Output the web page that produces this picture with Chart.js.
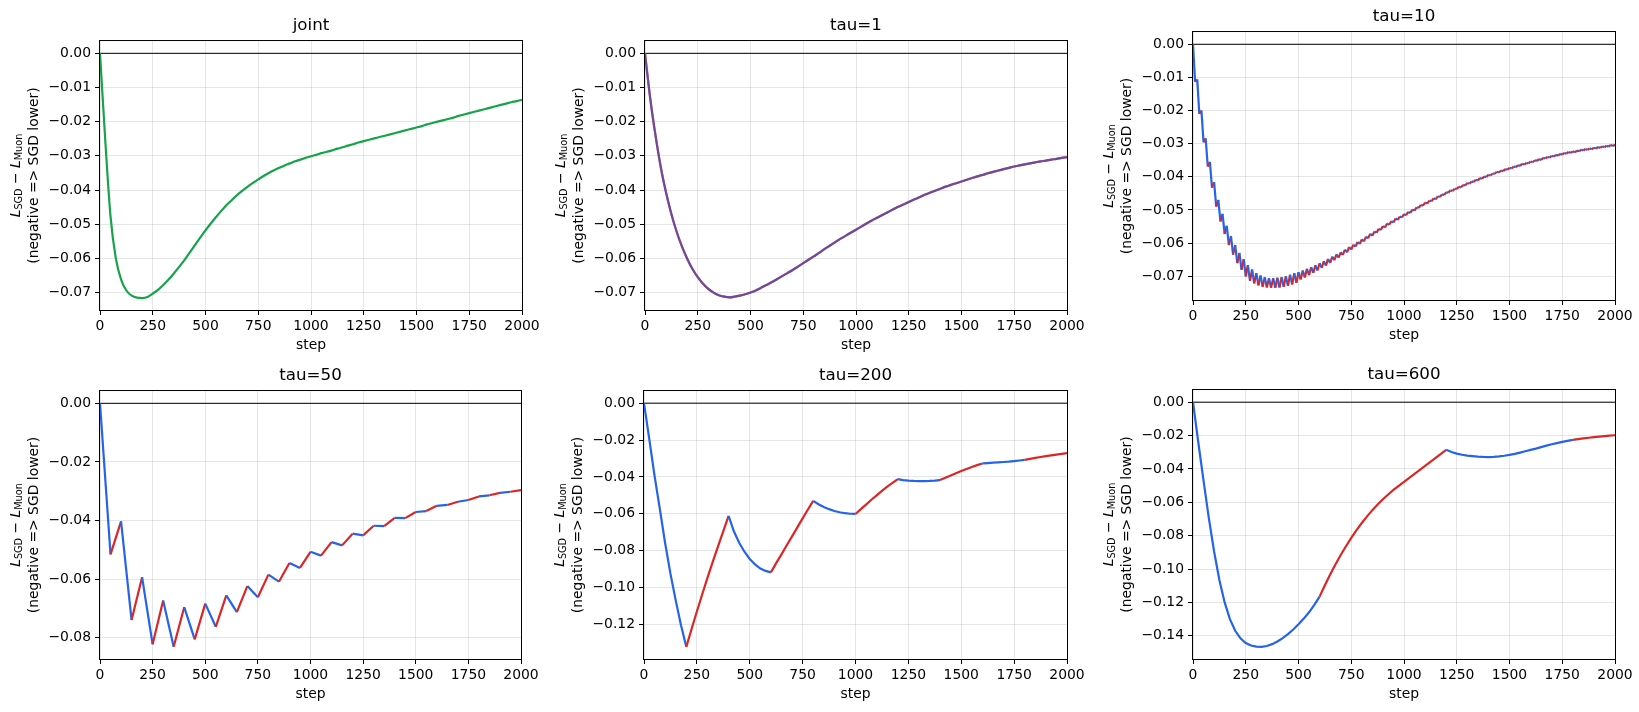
<!DOCTYPE html>
<html>
<head>
<meta charset="utf-8">
<script src="https://cdn.jsdelivr.net/npm/chart.js@4.4.1/dist/chart.umd.min.js"></script>
<style>
  html, body { margin: 0; padding: 0; background: #fff; }
  body { width: 1639px; height: 712px; position: relative; overflow: hidden; }
  canvas { position: absolute; }
</style>
</head>
<body>
<script>
// ---- data ----

const xTicks = [0, 250, 500, 750, 1000, 1250, 1500, 1750, 2000];
const yTicks01 = [0, -0.01, -0.02, -0.03, -0.04, -0.05, -0.06, -0.07];
const yTicks50 = [0, -0.02, -0.04, -0.06, -0.08];
const yTicks200 = [0, -0.02, -0.04, -0.06, -0.08, -0.10, -0.12];
const yTicks600 = [0, -0.02, -0.04, -0.06, -0.08, -0.10, -0.12, -0.14];

const steps25 = [
  0, 25, 50, 75, 100, 125, 150, 175,
  200, 225, 250, 275, 300, 325, 350, 375,
  400, 425, 450, 475, 500, 525, 550, 575,
  600, 625, 650, 675, 700, 725, 750, 775,
  800, 825, 850, 875, 900, 925, 950, 975,
  1000, 1025, 1050, 1075, 1100, 1125, 1150, 1175,
  1200, 1225, 1250, 1275, 1300, 1325, 1350, 1375,
  1400, 1425, 1450, 1475, 1500, 1525, 1550, 1575,
  1600, 1625, 1650, 1675, 1700, 1725, 1750, 1775,
  1800, 1825, 1850, 1875, 1900, 1925, 1950, 1975,
  2000
];

const jointLoss = [
  0, -0.0255, -0.0478, -0.0600, -0.0662, -0.0694, -0.0709, -0.0715,
  -0.0716, -0.0713, -0.0703, -0.0692, -0.0678, -0.0662, -0.0644, -0.0625,
  -0.0605, -0.0583, -0.0561, -0.0539, -0.0518, -0.0498, -0.0479, -0.0461,
  -0.0444, -0.0429, -0.0415, -0.0402, -0.0390, -0.0379, -0.0369, -0.0359,
  -0.0350, -0.0342, -0.0335, -0.0328, -0.0322, -0.0316, -0.0311, -0.0306,
  -0.0301, -0.0297, -0.0292, -0.0288, -0.0284, -0.0279, -0.0275, -0.0270,
  -0.0266, -0.0261, -0.0257, -0.0253, -0.0249, -0.0245, -0.0241, -0.0237,
  -0.0233, -0.0229, -0.0225, -0.0221, -0.0217, -0.0213, -0.0208, -0.0204,
  -0.0200, -0.0196, -0.0192, -0.0188, -0.0183, -0.0179, -0.0175, -0.0171,
  -0.0167, -0.0163, -0.0159, -0.0155, -0.0151, -0.0147, -0.0143, -0.0140,
  -0.0136
];

const tau1Loss = [
  0, -0.0133, -0.0241, -0.0334, -0.0408, -0.0470, -0.0522, -0.0565,
  -0.0601, -0.0631, -0.0655, -0.0674, -0.0689, -0.0700, -0.0708, -0.0712,
  -0.0714, -0.0712, -0.0709, -0.0705, -0.0700, -0.0694, -0.0686, -0.0678,
  -0.0670, -0.0661, -0.0652, -0.0643, -0.0634, -0.0624, -0.0614, -0.0604,
  -0.0594, -0.0584, -0.0573, -0.0563, -0.0553, -0.0543, -0.0534, -0.0525,
  -0.0516, -0.0507, -0.0498, -0.0489, -0.0481, -0.0473, -0.0465, -0.0457,
  -0.0449, -0.0442, -0.0435, -0.0428, -0.0421, -0.0414, -0.0408, -0.0402,
  -0.0396, -0.0390, -0.0385, -0.0380, -0.0375, -0.0370, -0.0365, -0.0360,
  -0.0356, -0.0351, -0.0347, -0.0343, -0.0339, -0.0335, -0.0331, -0.0328,
  -0.0325, -0.0322, -0.0319, -0.0316, -0.0314, -0.0311, -0.0309, -0.0306,
  -0.0304
];

const tau200Loss = [
  0, -0.0195, -0.0395, -0.0575, -0.0760, -0.0925, -0.1070, -0.1205,
  -0.1322, -0.1225, -0.1130, -0.1038, -0.0948, -0.0861, -0.0777, -0.0694,
  -0.0612, -0.0695, -0.0757, -0.0806, -0.0845, -0.0875, -0.0897, -0.0910,
  -0.0918, -0.0868, -0.0820, -0.0771, -0.0723, -0.0674, -0.0625, -0.0577,
  -0.0530, -0.0548, -0.0563, -0.0575, -0.0585, -0.0592, -0.0597, -0.0600,
  -0.0601, -0.0575, -0.0550, -0.0524, -0.0500, -0.0476, -0.0453, -0.0432,
  -0.0412, -0.0417, -0.0420, -0.0422, -0.0423, -0.0423, -0.0422, -0.0420,
  -0.0417, -0.0404, -0.0392, -0.0380, -0.0368, -0.0357, -0.0346, -0.0336,
  -0.0327, -0.0325, -0.0323, -0.0321, -0.0319, -0.0317, -0.0314, -0.0311,
  -0.0308, -0.0302, -0.0297, -0.0292, -0.0287, -0.0283, -0.0279, -0.0275,
  -0.0271
];

const tau600Loss = [
  0, -0.0240, -0.0470, -0.0695, -0.0895, -0.1065, -0.1200, -0.1300,
  -0.1370, -0.1415, -0.1443, -0.1458, -0.1465, -0.1466, -0.1461, -0.1450,
  -0.1434, -0.1414, -0.1390, -0.1362, -0.1331, -0.1297, -0.1259, -0.1215,
  -0.1165, -0.1097, -0.1033, -0.0973, -0.0916, -0.0863, -0.0813, -0.0767,
  -0.0724, -0.0684, -0.0647, -0.0613, -0.0582, -0.0553, -0.0526, -0.0501,
  -0.0477, -0.0453, -0.0429, -0.0405, -0.0381, -0.0357, -0.0333, -0.0309,
  -0.0285, -0.0298, -0.0308, -0.0315, -0.0320, -0.0323, -0.0326, -0.0328,
  -0.0329, -0.0328, -0.0325, -0.0321, -0.0316, -0.0310, -0.0302, -0.0294,
  -0.0286, -0.0278, -0.0269, -0.0260, -0.0252, -0.0245, -0.0238, -0.0232,
  -0.0226, -0.0221, -0.0217, -0.0213, -0.0209, -0.0206, -0.0203, -0.0200,
  -0.0198
];

const steps50 = [
  0, 50, 100, 150, 200, 250, 300, 350, 400, 450,
  500, 550, 600, 650, 700, 750, 800, 850, 900, 950,
  1000, 1050, 1100, 1150, 1200, 1250, 1300, 1350, 1400, 1450,
  1500, 1550, 1600, 1650, 1700, 1750, 1800, 1850, 1900, 1950,
  2000
];

const tau50Loss = [
  0, -0.0516, -0.0403, -0.0740, -0.0594, -0.0823, -0.0673, -0.0831, -0.0696, -0.0806,
  -0.0684, -0.0763, -0.0656, -0.0713, -0.0624, -0.0662, -0.0585, -0.0609, -0.0545, -0.0562,
  -0.0507, -0.0520, -0.0474, -0.0485, -0.0445, -0.0451, -0.0418, -0.0419, -0.0391, -0.0392,
  -0.0371, -0.0368, -0.0350, -0.0347, -0.0336, -0.0330, -0.0318, -0.0314, -0.0306, -0.0302,
  -0.0296
];

const steps10 = [
  0, 10, 20, 30, 40, 50, 60, 70, 80, 90,
  100, 110, 120, 130, 140, 150, 160, 170, 180, 190,
  200, 210, 220, 230, 240, 250, 260, 270, 280, 290,
  300, 310, 320, 330, 340, 350, 360, 370, 380, 390,
  400, 410, 420, 430, 440, 450, 460, 470, 480, 490,
  500, 510, 520, 530, 540, 550, 560, 570, 580, 590,
  600, 610, 620, 630, 640, 650, 660, 670, 680, 690,
  700, 710, 720, 730, 740, 750, 760, 770, 780, 790,
  800, 810, 820, 830, 840, 850, 860, 870, 880, 890,
  900, 910, 920, 930, 940, 950, 960, 970, 980, 990,
  1000, 1010, 1020, 1030, 1040, 1050, 1060, 1070, 1080, 1090,
  1100, 1110, 1120, 1130, 1140, 1150, 1160, 1170, 1180, 1190,
  1200, 1210, 1220, 1230, 1240, 1250, 1260, 1270, 1280, 1290,
  1300, 1310, 1320, 1330, 1340, 1350, 1360, 1370, 1380, 1390,
  1400, 1410, 1420, 1430, 1440, 1450, 1460, 1470, 1480, 1490,
  1500, 1510, 1520, 1530, 1540, 1550, 1560, 1570, 1580, 1590,
  1600, 1610, 1620, 1630, 1640, 1650, 1660, 1670, 1680, 1690,
  1700, 1710, 1720, 1730, 1740, 1750, 1760, 1770, 1780, 1790,
  1800, 1810, 1820, 1830, 1840, 1850, 1860, 1870, 1880, 1890,
  1900, 1910, 1920, 1930, 1940, 1950, 1960, 1970, 1980, 1990,
  2000
];

const tau10Loss = [
  0, -0.0113, -0.0106, -0.0210, -0.0200, -0.0296, -0.0284, -0.0369, -0.0355, -0.0433,
  -0.0416, -0.0490, -0.0470, -0.0535, -0.0512, -0.0573, -0.0548, -0.0606, -0.0579, -0.0635,
  -0.0606, -0.0661, -0.0630, -0.0681, -0.0649, -0.0701, -0.0667, -0.0714, -0.0680, -0.0722,
  -0.0691, -0.0728, -0.0698, -0.0732, -0.0703, -0.0734, -0.0706, -0.0735, -0.0706, -0.0735,
  -0.0705, -0.0734, -0.0703, -0.0732, -0.0700, -0.0729, -0.0696, -0.0725, -0.0691, -0.0720,
  -0.0688, -0.0710, -0.0683, -0.0704, -0.0678, -0.0697, -0.0673, -0.0690, -0.0667, -0.0683,
  -0.0661, -0.0675, -0.0655, -0.0668, -0.0648, -0.0660, -0.0641, -0.0652, -0.0634, -0.0644,
  -0.0628, -0.0636, -0.0620, -0.0628, -0.0612, -0.0620, -0.0605, -0.0611, -0.0597, -0.0603,
  -0.0589, -0.0595, -0.0581, -0.0586, -0.0572, -0.0578, -0.0565, -0.0569, -0.0557, -0.0561,
  -0.0549, -0.0553, -0.0541, -0.0545, -0.0534, -0.0538, -0.0526, -0.0530, -0.0520, -0.0523,
  -0.0513, -0.0516, -0.0506, -0.0509, -0.0499, -0.0502, -0.0492, -0.0494, -0.0485, -0.0487,
  -0.0478, -0.0481, -0.0472, -0.0474, -0.0465, -0.0468, -0.0459, -0.0461, -0.0453, -0.0455,
  -0.0447, -0.0448, -0.0441, -0.0443, -0.0436, -0.0437, -0.0430, -0.0432, -0.0425, -0.0426,
  -0.0419, -0.0421, -0.0414, -0.0416, -0.0409, -0.0411, -0.0404, -0.0406, -0.0399, -0.0401,
  -0.0394, -0.0396, -0.0390, -0.0391, -0.0385, -0.0387, -0.0381, -0.0383, -0.0377, -0.0379,
  -0.0373, -0.0375, -0.0369, -0.0371, -0.0365, -0.0367, -0.0361, -0.0363, -0.0358, -0.0360,
  -0.0354, -0.0356, -0.0350, -0.0352, -0.0347, -0.0349, -0.0343, -0.0345, -0.0340, -0.0342,
  -0.0337, -0.0339, -0.0334, -0.0336, -0.0331, -0.0333, -0.0328, -0.0330, -0.0325, -0.0328,
  -0.0323, -0.0326, -0.0321, -0.0323, -0.0318, -0.0321, -0.0316, -0.0319, -0.0314, -0.0317,
  -0.0312, -0.0315, -0.0310, -0.0313, -0.0308, -0.0311, -0.0306, -0.0309, -0.0304, -0.0307,
  -0.0303
];

// ---- styling ----
const FONT = '"DejaVu Sans", sans-serif';
const BLUE = '#2563eb';
const RED = '#dc2626';
const GREEN = '#16a34a';
const GRID = 'rgba(176,176,176,0.32)';

const toPoints = (xs, ys) => xs.map((x, i) => ({ x, y: ys[i] }));
const fmtY = v => (v < 0 ? '\u2212' : '') + Math.abs(v).toFixed(2);

// blue on even phases, red on odd ones
const phaseColor = tau => c => (Math.floor(c.p0.parsed.x / tau) % 2 === 0 ? BLUE : RED);

const zeroLine = () => ({
  data: [{ x: 0, y: 0 }, { x: 2000, y: 0 }],
  borderColor: '#000', borderWidth: 1, tension: 0
});

// frame + two-line y label with subscripts (matplotlib mathtext look-alike)
const framePlugin = {
  id: 'frameBox',
  afterDatasetsDraw(chart) {
    const { ctx, chartArea: a } = chart;
    ctx.save();
    ctx.strokeStyle = '#000';
    ctx.lineWidth = 1;
    ctx.strokeRect(a.left - 0.5, a.top - 0.5, a.right - a.left + 1, a.bottom - a.top + 1);
    ctx.restore();
  },
  afterDraw(chart) {
    const { ctx, chartArea: a } = chart;
    const cy = (a.top + a.bottom) / 2;
    const big = '13.9px ' + FONT, small = '9.7px ' + FONT, ital = 'italic 13.9px ' + FONT;
    const parts = [[ital, 'L', 0], [small, 'SGD', 3.5], [big, ' \u2212 ', 0], [ital, 'L', 0], [small, 'Muon', 3.5]];
    ctx.save();
    ctx.fillStyle = '#000';
    ctx.textBaseline = 'middle';
    ctx.textAlign = 'left';
    let total = 0;
    for (const p of parts) { ctx.font = p[0]; total += ctx.measureText(p[1]).width; }
    ctx.translate(a.left - 84, cy);
    ctx.rotate(-Math.PI / 2);
    let x = -total / 2;
    for (const p of parts) {
      ctx.font = p[0];
      ctx.fillText(p[1], x, p[2]);
      x += ctx.measureText(p[1]).width;
    }
    ctx.restore();

    ctx.save();
    ctx.fillStyle = '#000';
    ctx.textBaseline = 'middle';
    ctx.textAlign = 'center';
    ctx.font = big;
    ctx.translate(a.left - 66, cy);
    ctx.rotate(-Math.PI / 2);
    ctx.fillText('(negative => SGD lower)', 0, 0);
    ctx.restore();
  }
};
Chart.register(framePlugin);

const TITLE_BOX = 30, X_BOX = 46, Y_BOX = 100, RIGHT_PAD = 30;

const makePanel = (box, title, yMin, yMax, yTicks, datasets) => {
  const canvas = document.createElement('canvas');
  const w = Y_BOX + (box.R - box.L) + RIGHT_PAD;
  const h = TITLE_BOX + (box.B - box.T) + X_BOX;
  canvas.width = w;
  canvas.height = h;
  canvas.style.left = (box.L - Y_BOX) + 'px';
  canvas.style.top = (box.T - TITLE_BOX) + 'px';
  canvas.style.width = w + 'px';
  canvas.style.height = h + 'px';
  document.body.append(canvas);

  const gridOpts = { color: GRID, lineWidth: 1, tickColor: '#000', tickLength: 5, tickWidth: 1 };
  const tickFont = { family: FONT, size: 13.9 };

  return new Chart(canvas.getContext('2d'), {
    type: 'line',
    data: { datasets },
    options: {
      responsive: false,
      animation: false,
      devicePixelRatio: 1,
      layout: { padding: { left: 0, right: RIGHT_PAD, top: 0, bottom: 0 } },
      elements: { point: { radius: 0 }, line: { borderWidth: 2.2, tension: 0 } },
      plugins: {
        legend: { display: false },
        tooltip: { enabled: false },
        title: {
          display: true, text: title, color: '#000', fullSize: false,
          font: { family: FONT, size: 16.7, weight: 'normal' },
          padding: { top: 4.98, bottom: 5 }
        }
      },
      scales: {
        x: {
          type: 'linear', min: 0, max: 2000,
          afterFit: s => { s.height = X_BOX; },
          afterBuildTicks: s => { s.ticks = xTicks.map(v => ({ value: v })); },
          ticks: { color: '#000', font: tickFont, padding: 3, autoSkip: false, maxRotation: 0, callback: v => String(v) },
          grid: gridOpts,
          border: { display: false },
          title: { display: true, text: 'step', color: '#000', font: tickFont, padding: { top: 0, bottom: 2.7 } }
        },
        y: {
          type: 'linear', min: yMin, max: yMax,
          afterFit: s => { s.width = Y_BOX; },
          afterBuildTicks: s => { s.ticks = yTicks.map(v => ({ value: v })); },
          ticks: { color: '#000', font: tickFont, padding: 4, autoSkip: false, callback: fmtY },
          grid: gridOpts,
          border: { display: false }
        }
      }
    }
  });
};

// ---- panels ----
makePanel({ L: 100, T: 41, R: 522, B: 310 }, 'joint', -0.0751, 0.0036, yTicks01, [
  { data: toPoints(steps25, jointLoss), borderColor: GREEN, cubicInterpolationMode: 'monotone' },
  zeroLine()
]);

makePanel({ L: 645, T: 41, R: 1067, B: 310 }, 'tau=1', -0.0751, 0.0036, yTicks01, [
  { data: toPoints(steps25, tau1Loss), borderColor: 'rgba(37,99,235,0.6)', cubicInterpolationMode: 'monotone' },
  { data: toPoints(steps25, tau1Loss), borderColor: RED, cubicInterpolationMode: 'monotone' },
  zeroLine()
]);

makePanel({ L: 1193, T: 32, R: 1615, B: 300 }, 'tau=10', -0.0772, 0.0037, yTicks01, [
  { data: toPoints(steps10, tau10Loss), borderColor: BLUE, segment: { borderColor: phaseColor(10) } },
  zeroLine()
]);

makePanel({ L: 100, T: 391, R: 521, B: 659 }, 'tau=50', -0.0873, 0.0042, yTicks50, [
  { data: toPoints(steps50, tau50Loss), borderColor: BLUE, segment: { borderColor: phaseColor(50) } },
  zeroLine()
]);

makePanel({ L: 644, T: 391, R: 1067, B: 659 }, 'tau=200', -0.1388, 0.0066, yTicks200, [
  { data: toPoints(steps25, tau200Loss), borderColor: BLUE, segment: { borderColor: phaseColor(200) } },
  zeroLine()
]);

makePanel({ L: 1193, T: 390, R: 1615, B: 659 }, 'tau=600', -0.1539, 0.0073, yTicks600, [
  { data: toPoints(steps25, tau600Loss), borderColor: BLUE, segment: { borderColor: phaseColor(600) } },
  zeroLine()
]);
</script>
</body>
</html>
